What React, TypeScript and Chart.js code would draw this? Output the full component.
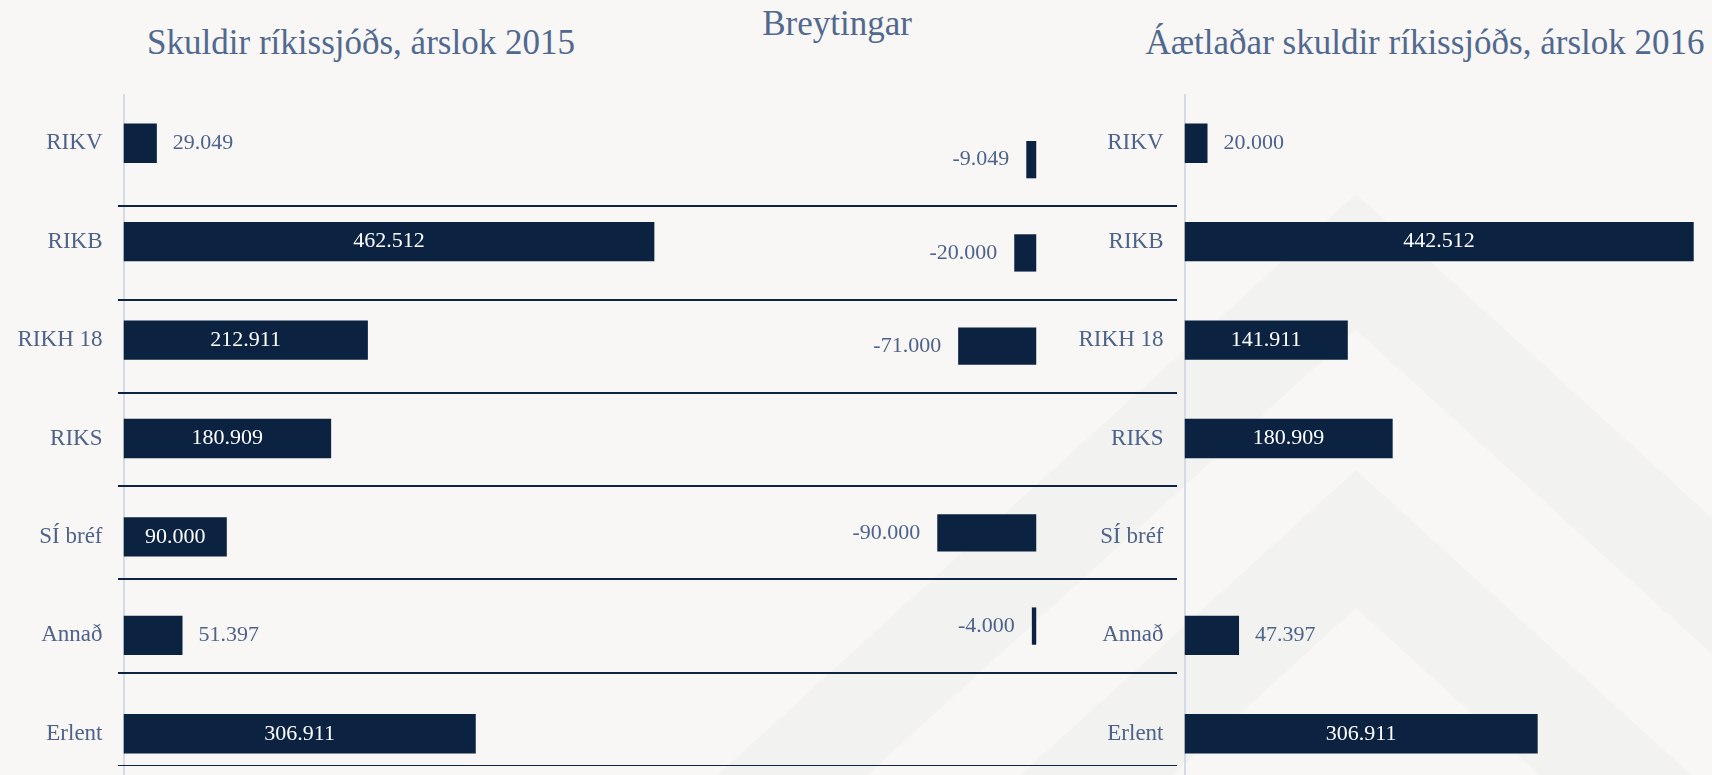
import React, { useEffect, useRef } from 'react';
import { Chart, registerables } from 'chart.js';

Chart.register(...registerables);

// ---- data ----
const categories = ['RIKV', 'RIKB', 'RIKH 18', 'RIKS', 'SÍ bréf', 'Annað', 'Erlent'];
const debtEnd2015 = [29049, 462512, 212911, 180909, 90000, 51397, 306911];
const changes = [-9049, -20000, -71000, null, -90000, -4000, null];
const debtEnd2016 = [20000, 442512, 141911, 180909, null, 47397, 306911];

const titleLeft = 'Skuldir ríkissjóðs, árslok 2015';
const titleMiddle = 'Breytingar';
const titleRight = 'Áætlaðar skuldir ríkissjóðs, árslok 2016';

// ---- styles ----
const FONT = '"Liberation Serif", "Times New Roman", serif';
const BAR = '#0b2341';
const TEXT = '#4d6389';
const TITLE = '#51698f';
const BG = '#f8f7f5';
const AXIS = '#d3dbe6';
const DIVIDER = '#0d2442';
const BAND = '#f2f2f0';

function fmt(v: number): string {
  const s = Math.abs(v).toString().replace(/\B(?=(\d{3})+(?!\d))/g, '.');
  return (v < 0 ? '-' : '') + s;
}

function valueLabels(alwaysOutside: boolean) {
  return {
    id: 'valueLabels',
    afterDatasetsDraw(chart: any) {
      const ctx = chart.ctx;
      const ds = chart.data.datasets[0];
      const meta = chart.getDatasetMeta(0);
      ctx.save();
      ctx.font = `22px ${FONT}`;
      ctx.textBaseline = 'middle';
      meta.data.forEach((el: any, i: number) => {
        const v = ds.data[i];
        if (v === null || v === undefined) return;
        const { x, y, base } = el.getProps(['x', 'y', 'base'], true);
        const left = Math.min(x, base);
        const right = Math.max(x, base);
        const text = fmt(v);
        const tw = ctx.measureText(text).width;
        if (!alwaysOutside && right - left >= tw + 20) {
          ctx.fillStyle = '#ffffff';
          ctx.textAlign = 'center';
          ctx.fillText(text, (left + right) / 2, y);
        } else if (v >= 0) {
          ctx.fillStyle = TEXT;
          ctx.textAlign = 'left';
          ctx.fillText(text, right + 16, y);
        } else {
          ctx.fillStyle = TEXT;
          ctx.textAlign = 'right';
          ctx.fillText(text, left - 17, y);
        }
      });
      ctx.restore();
    },
  };
}

function sideConfig(values: (number | null)[], axisWidth: number, max: number): any {
  return {
    type: 'bar',
    data: {
      labels: categories,
      datasets: [
        {
          data: values,
          backgroundColor: BAR,
          barPercentage: 0.4,
          categoryPercentage: 1,
        },
      ],
    },
    options: {
      indexAxis: 'y',
      responsive: false,
      animation: false,
      events: [],
      layout: { padding: 0 },
      plugins: { legend: { display: false }, tooltip: { enabled: false } },
      scales: {
        x: { display: false, min: 0, max },
        y: {
          afterFit: (s: any) => {
            s.width = axisWidth;
            s.paddingTop = 0;
            s.paddingBottom = 0;
          },
          grid: { display: false, drawTicks: false },
          border: { display: true, color: AXIS, width: 2 },
          ticks: { font: { family: FONT, size: 23 }, color: TEXT, padding: 21 },
        },
      },
    },
    plugins: [valueLabels(false)],
  };
}

function middleConfig(): any {
  return {
    type: 'bar',
    data: {
      labels: categories,
      datasets: [
        {
          data: changes,
          backgroundColor: BAR,
          barPercentage: 0.4,
          categoryPercentage: 1,
        },
      ],
    },
    options: {
      indexAxis: 'y',
      responsive: false,
      animation: false,
      events: [],
      layout: { padding: 0 },
      plugins: { legend: { display: false }, tooltip: { enabled: false } },
      scales: {
        x: { display: false, min: -835000, max: 128000 },
        y: {
          afterFit: (s: any) => {
            s.width = 0;
            s.paddingTop = 0;
            s.paddingBottom = 0;
          },
          ticks: { display: false },
          border: { display: false },
          grid: {
            offset: true,
            drawTicks: false,
            lineWidth: 2,
            color: (c: any) => (c.index === 0 ? 'rgba(0,0,0,0)' : DIVIDER),
          },
        },
      },
    },
    plugins: [valueLabels(true)],
  };
}

const titleStyle = (center: number, top: number): React.CSSProperties => ({
  position: 'absolute',
  left: center - 450,
  width: 900,
  top,
  textAlign: 'center',
  fontFamily: FONT,
  fontSize: 35,
  lineHeight: '35px',
  color: TITLE,
  whiteSpace: 'nowrap',
});

export default function App() {
  const leftRef = useRef<HTMLCanvasElement>(null);
  const midRef = useRef<HTMLCanvasElement>(null);
  const rightRef = useRef<HTMLCanvasElement>(null);

  useEffect(() => {
    const charts = [
      new Chart(leftRef.current as HTMLCanvasElement, sideConfig(debtEnd2015, 123.5, 917000)),
      new Chart(midRef.current as HTMLCanvasElement, middleConfig()),
      new Chart(rightRef.current as HTMLCanvasElement, sideConfig(debtEnd2016, 184.5, 458400)),
    ];
    return () => charts.forEach((c) => c.destroy());
  }, []);

  return (
    <div
      style={{
        position: 'fixed',
        left: 0,
        top: 0,
        width: 1712,
        height: 775,
        overflow: 'hidden',
        background: BG,
      }}
    >
      <svg width={1712} height={775} style={{ position: 'absolute', left: 0, top: 0 }}>
        <polygon points="580,900 1356,194 2132,900 1982,900 1356,330 730,900" fill={BAND} />
        <polygon points="883,900 1356,470 1829,900 1677,900 1356,608 1035,900" fill={BAND} />
      </svg>
      <div style={titleStyle(361, 25)}>{titleLeft}</div>
      <div style={titleStyle(837, 6)}>{titleMiddle}</div>
      <div style={titleStyle(1425, 25)}>{titleRight}</div>
      <canvas
        ref={leftRef}
        width={1176}
        height={689}
        style={{ position: 'absolute', left: 0, top: 94, width: 1176, height: 689 }}
      />
      <canvas
        ref={midRef}
        width={1059}
        height={653}
        style={{ position: 'absolute', left: 118, top: 113, width: 1059, height: 653 }}
      />
      <canvas
        ref={rightRef}
        width={712}
        height={689}
        style={{ position: 'absolute', left: 1000, top: 94, width: 712, height: 689 }}
      />
    </div>
  );
}
